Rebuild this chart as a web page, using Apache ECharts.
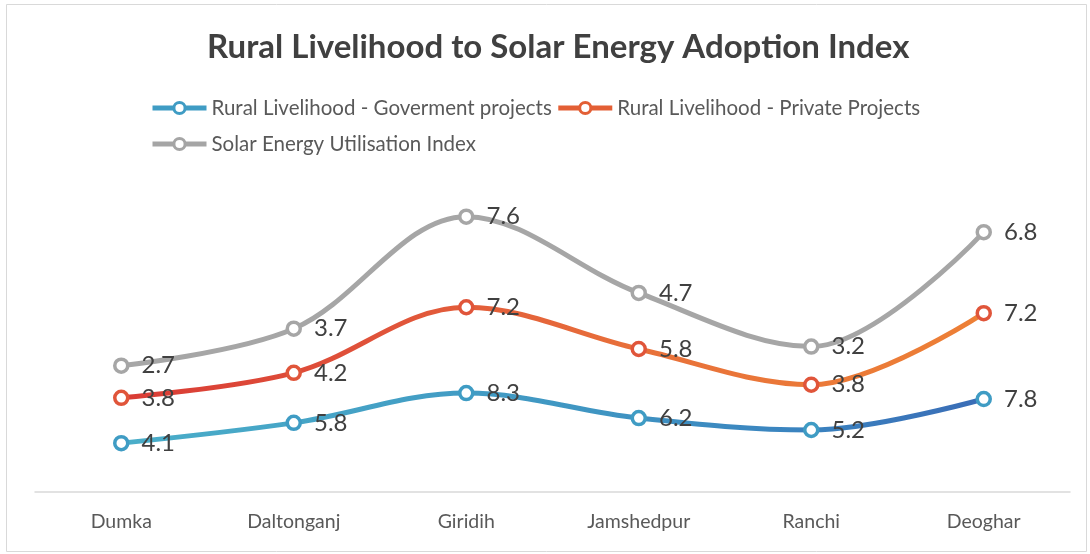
<!DOCTYPE html>
<html>
<head>
<meta charset="utf-8">
<script src="https://cdn.jsdelivr.net/npm/echarts@6/dist/echarts.min.js"></script>
<style>
  html, body { margin: 0; padding: 0; background: #fff; }
  #chart { width: 1090px; height: 554px; }
</style>
</head>
<body>
<div id="chart"></div>
<script>
// Districts along the x axis
const districts = ['Dumka', 'Daltonganj', 'Giridih', 'Jamshedpur', 'Ranchi', 'Deoghar'];

// Index values per district (series are stacked)
const govProjects = [4.1, 5.8, 8.3, 6.2, 5.2, 7.8];
const privateProjects = [3.8, 4.2, 7.2, 5.8, 3.8, 7.2];
const solarIndex = [2.7, 3.7, 7.6, 4.7, 3.2, 6.8];

const seriesNames = [
  'Rural Livelihood - Goverment projects',
  'Rural Livelihood - Private Projects',
  'Solar Energy Utilisation Index'
];

const FONT = 'Lato, Open Sans, sans-serif';

function makeSeries(name, data, lineColor, markerColor) {
  return {
    name: name,
    type: 'line',
    stack: 'total',
    data: data,
    smooth: 0.35,
    symbol: 'circle',
    symbolSize: 13,
    lineStyle: { width: 5, color: lineColor },
    itemStyle: { color: '#ffffff', borderColor: markerColor, borderWidth: 3.5 },
    label: {
      show: true,
      position: 'right',
      distance: 12,
      fontFamily: FONT,
      fontSize: 24,
      color: '#404040'
    },
    emphasis: { disabled: true },
    z: 3
  };
}

const chart = echarts.init(document.getElementById('chart'), null, { renderer: 'canvas' });

chart.setOption({
  animation: false,
  backgroundColor: '#ffffff',
  title: {
    text: 'Rural Livelihood to Solar Energy Adoption Index',
    left: 202,
    top: 26,
    textStyle: { fontFamily: FONT, fontSize: 33, fontWeight: 'bold', color: '#404040' }
  },
  legend: {
    left: 145,
    top: 87,
    width: 850,
    itemWidth: 54,
    itemHeight: 14,
    itemGap: 4,
    textStyle: { fontFamily: FONT, fontSize: 20.5, color: '#595959', lineHeight: 32 },
    data: seriesNames.map((n, i) => ({
      name: n,
      itemStyle: { color: '#ffffff', borderColor: ['#3f9cc4', '#e35f35', '#a5a5a5'][i], borderWidth: 3 },
      lineStyle: { color: ['#3f9cc4', '#e35f35', '#a5a5a5'][i], width: 5 }
    }))
  },
  grid: { left: 35, right: 20, top: 194, bottom: 62 },
  xAxis: {
    type: 'category',
    data: districts,
    boundaryGap: true,
    axisLine: { lineStyle: { color: '#d9d9d9', width: 1.5 } },
    axisTick: { show: false },
    axisLabel: { fontFamily: FONT, fontSize: 19.5, color: '#595959', margin: 20 }
  },
  yAxis: {
    type: 'value',
    min: 0,
    max: 25,
    show: false,
    splitLine: { show: false }
  },
  series: [
    makeSeries(seriesNames[0], govProjects,
      new echarts.graphic.LinearGradient(0, 0, 1, 0, [
        { offset: 0, color: '#4aaec9' },
        { offset: 0.55, color: '#3f95c2' },
        { offset: 0.8, color: '#3a82bf' },
        { offset: 1, color: '#3a6cb6' }
      ]), '#3f9cc4'),
    makeSeries(seriesNames[1], privateProjects,
      new echarts.graphic.LinearGradient(0, 0, 1, 0, [
        { offset: 0, color: '#d93b35' },
        { offset: 0.3, color: '#e0533a' },
        { offset: 0.6, color: '#e8713a' },
        { offset: 1, color: '#ed8036' }
      ]), '#e0553a'),
    makeSeries(seriesNames[2], solarIndex, '#a6a6a6', '#a6a6a6')
  ],
  graphic: [{
    type: 'rect',
    shape: { x: 6.5, y: 4.5, width: 1080, height: 547 },
    style: { fill: null, stroke: '#d9d9d9', lineWidth: 1 },
    silent: true,
    z: -1
  }]
});
</script>
</body>
</html>
